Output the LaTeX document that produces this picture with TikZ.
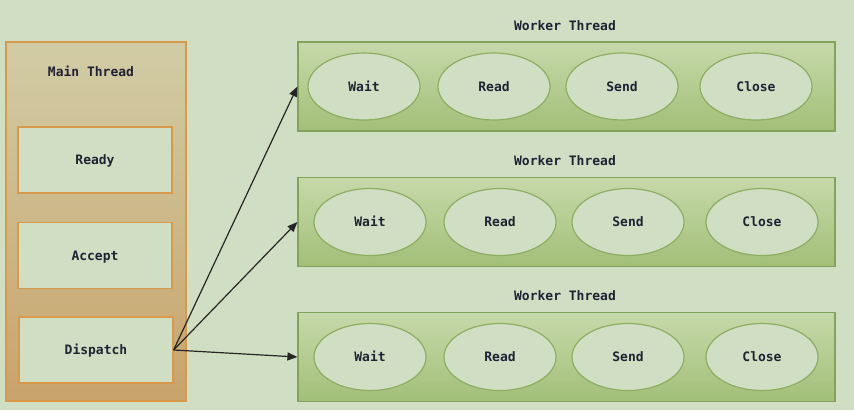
\documentclass[tikz,border=0pt]{standalone}
\usepackage{fontspec}
\setmonofont{DejaVu Sans Mono}
\usetikzlibrary{arrows.meta,shapes.geometric}
\definecolor{bg}{HTML}{D0DFC4}
\definecolor{mtop}{HTML}{D1CCA5}
\definecolor{mbot}{HTML}{C9A46C}
\definecolor{mborder}{HTML}{D8994A}
\definecolor{wtop}{HTML}{C6D9AA}
\definecolor{wbot}{HTML}{A2BF78}
\definecolor{wborder}{HTML}{82A35A}
\definecolor{eborder}{HTML}{8CAD62}
\definecolor{txt}{HTML}{1F2233}
\tikzset{
  lbl/.style={font=\ttfamily\bfseries\fontsize{13}{15}\selectfont, text=txt, text height=9.5pt, text depth=0pt},
  mainbox/.style={draw=mborder, line width=1.2pt, top color=mtop, bottom color=mbot, minimum width=180pt, minimum height=359pt, inner sep=0pt},
  stagebox/.style={draw=mborder, line width=1.2pt, fill=bg, minimum width=154pt, minimum height=66pt, inner sep=0pt, lbl},
  workerbox/.style={draw=wborder, line width=1.2pt, top color=wtop, bottom color=wbot, minimum width=537pt, minimum height=89pt, inner sep=0pt},
  op/.style={ellipse, draw=eborder, line width=1.2pt, fill=bg, minimum width=112pt, minimum height=67pt, inner sep=0pt, lbl},
  conn/.style={draw=black!85, line width=1.2pt, -{Triangle[length=10pt,width=8pt]}}
}
\begin{document}
\begin{tikzpicture}[x=1pt,y=-1pt]
\fill[bg] (0,0) rectangle (854,410);
\useasboundingbox (0,0) rectangle (854,410);
% main thread
\node[mainbox] (main) at (96,221.5) {};
\node[lbl] (maint) at (91,72) {Main Thread};
\node[stagebox] (ready) at (95,160) {Ready};
\node[stagebox] (accept) at (95,255.5) {Accept};
\node[stagebox] (dispatch) at (96,350) {Dispatch};
% worker threads
\foreach \i/\y/\dx in {1/86.5/0, 2/222/6, 3/357/6} {
  \node[workerbox] (w\i) at (566.5,\y) {};
  \node[lbl] (wt\i) at (565,\y-61) {Worker Thread};
  \node[op] (wait\i) at (364+\dx,\y) {Wait};
  \node[op] (read\i) at (494+\dx,\y) {Read};
  \node[op] (send\i) at (622+\dx,\y) {Send};
  \node[op] (close\i) at (756+\dx,\y) {Close};
}
\coordinate (src) at (dispatch.east);
\draw[conn] (src) -- (w1.west);
\draw[conn] (src) -- (w2.west);
\draw[conn] (src) -- (w3.west);
\end{tikzpicture}
\end{document}
